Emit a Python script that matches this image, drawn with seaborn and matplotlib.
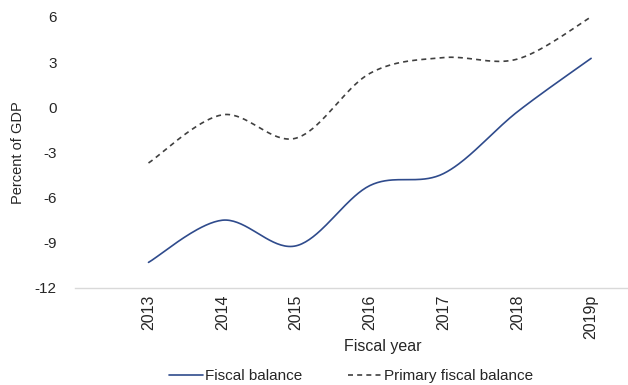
import numpy as np
import pandas as pd
import matplotlib
matplotlib.use("Agg")
import matplotlib.pyplot as plt
import seaborn as sns

years = ["2013", "2014", "2015", "2016", "2017", "2018", "2019p"]
fiscal_balance = [-10.3, -7.5, -9.2, -5.2, -4.4, -0.3, 3.25]
primary_balance = [-3.7, -0.5, -2.05, 2.25, 3.3, 3.2, 6.0]
y_ticks = [-12, -9, -6, -3, 0, 3, 6]


def smooth_curve(values, steps=40):
    """Cubic Bezier smoothing through every point (spreadsheet-style smoothed line)."""
    p = np.column_stack([np.arange(len(values), dtype=float), np.asarray(values, float)])
    ext = np.vstack([p[0], p, p[-1]])
    xs, ys = [], []
    t = np.linspace(0, 1, steps)
    for i in range(len(p) - 1):
        p0, p1, p2, p3 = ext[i], ext[i + 1], ext[i + 2], ext[i + 3]
        c1 = p1 + (p2 - p0) / 6.0
        c2 = p2 - (p3 - p1) / 6.0
        seg = ((1 - t) ** 3)[:, None] * p1 + (3 * (1 - t) ** 2 * t)[:, None] * c1 \
            + (3 * (1 - t) * t ** 2)[:, None] * c2 + (t ** 3)[:, None] * p2
        xs.extend(seg[:, 0])
        ys.extend(seg[:, 1])
    return np.array(xs), np.array(ys)


sns.set_theme(style="white")
plt.rcParams["font.family"] = ["Liberation Sans", "DejaVu Sans"]

fig = plt.figure(figsize=(6.28, 3.85), dpi=100)
ax = fig.add_axes([0.119, 0.252, 0.881, 0.704])

fx, fy = smooth_curve(fiscal_balance)
px, py = smooth_curve(primary_balance)
curves = pd.concat([
    pd.DataFrame({"x": fx, "y": fy, "series": "Fiscal balance"}),
    pd.DataFrame({"x": px, "y": py, "series": "Primary fiscal balance"}),
])

sns.lineplot(data=curves[curves.series == "Fiscal balance"], x="x", y="y",
             sort=False, color="#2f4b8c", lw=1.2, ax=ax, label="Fiscal balance")
sns.lineplot(data=curves[curves.series == "Primary fiscal balance"], x="x", y="y",
             sort=False, color="#404040", lw=1.2, ls=(0, (3, 2.5)), ax=ax,
             label="Primary fiscal balance")

ax.set_xlim(-1.0, 6.5)
ax.set_ylim(-12, 6)
ax.set_yticks(y_ticks)
ax.set_yticklabels([str(v) for v in y_ticks])
ax.set_xticks(range(len(years)))
ax.set_xticklabels(years, rotation=90)
ax.tick_params(axis="y", length=0, pad=13, labelsize=11, labelcolor="#262626")
ax.tick_params(axis="x", length=0, pad=5, labelsize=11.5, labelcolor="#262626")

for side in ["top", "right", "left"]:
    ax.spines[side].set_visible(False)
ax.spines["bottom"].set_color("#d9d9d9")
ax.spines["bottom"].set_linewidth(1.0)
ax.grid(False)

ax.set_xlabel("Fiscal year", fontsize=11.5, color="#262626")
ax.set_ylabel("Percent of GDP", fontsize=10.5, color="#262626")
ax.xaxis.set_label_coords(0.557, -0.19)
ax.yaxis.set_label_coords(-0.09, 0.5)

leg = ax.legend(loc="center", bbox_to_anchor=(0.5, -0.325), ncol=2, frameon=False,
                fontsize=11, handlelength=2.2, handletextpad=0.15, columnspacing=3.0,
                borderpad=0.2)
for txt in leg.get_texts():
    txt.set_color("#262626")

fig.savefig("out.png", dpi=100)
